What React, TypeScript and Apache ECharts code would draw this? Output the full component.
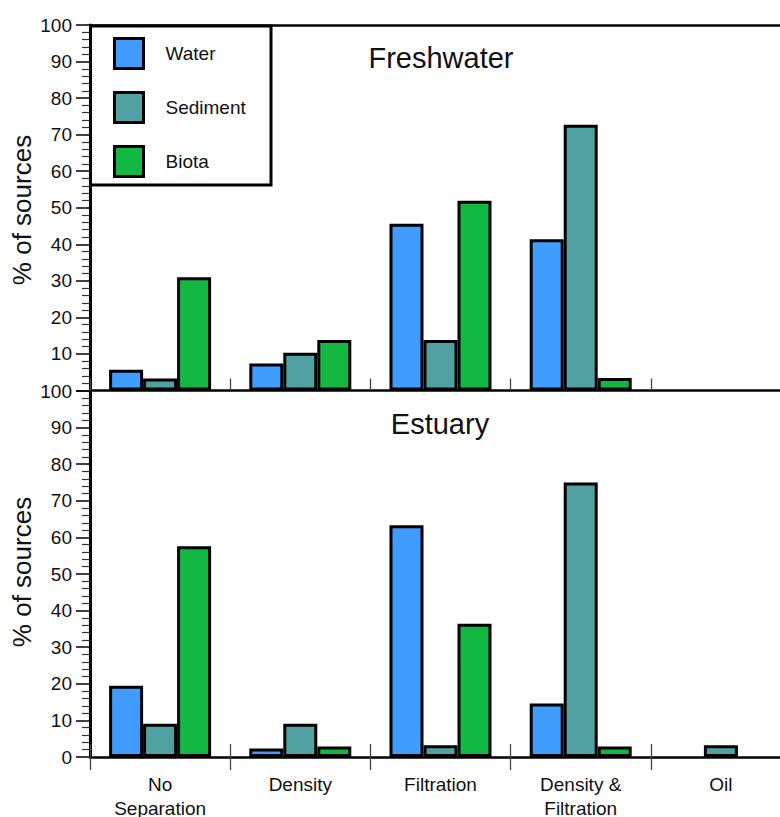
import React, { useEffect, useRef } from 'react';
import * as echarts from 'echarts';

const FONT = '"Liberation Sans", Arial, Helvetica, sans-serif';

const categories = ['No\nSeparation', 'Density', 'Filtration', 'Density &\nFiltration', 'Oil'];
const seriesNames = ['Water', 'Sediment', 'Biota'];
const colors = ['#409cff', '#52a1a2', '#13b842'];
const panelTitles = ['Freshwater', 'Estuary'];
const yAxisTitle = '% of sources';

// Percentage of sources per separation method, freshwater panel
const freshWater = [5.7, 7.4, 45.6, 41.4, 0];
const freshSediment = [3.3, 10.3, 13.8, 72.7, 0];
const freshBiota = [31.0, 13.8, 51.9, 3.4, 0];

// Percentage of sources per separation method, estuary panel
const estuaryWater = [19.5, 2.3, 63.3, 14.6, 0];
const estuarySediment = [9.1, 9.1, 3.2, 75.0, 3.2];
const estuaryBiota = [57.6, 2.9, 36.4, 2.9, 0];

// zero shares are simply not drawn
const toBars = (arr: number[]) => arr.map((v) => (v > 0 ? v : null));

export default function App() {
  const ref = useRef<HTMLDivElement>(null);

  useEffect(() => {
    if (!ref.current) return;
    const chart = echarts.init(ref.current, undefined, { renderer: 'svg' });

    const yAxisBase = {
      type: 'value',
      min: 0,
      max: 100,
      interval: 10,
      axisLine: { show: true, lineStyle: { color: '#000', width: 3 } },
      axisTick: { show: true, length: 14, lineStyle: { color: '#000', width: 1.5 } },
      minorTick: { show: true, splitNumber: 5, length: 8, lineStyle: { color: '#333', width: 1.2 } },
      splitLine: { show: false },
      axisLabel: { color: '#111', fontSize: 19, fontFamily: FONT, margin: 18 },
    };

    const catBase = {
      type: 'category',
      data: categories,
      axisLabel: { show: false },
      axisTick: { show: false },
      axisLine: { show: false, onZero: false },
    };
    const lineStyle = { color: '#000', width: 2.5 };
    const tickStyle = { color: '#444', width: 1.3 };

    const barBase = {
      type: 'bar',
      barWidth: 34,
      barGap: '0%',
    };
    const datasets = [
      [freshWater, freshSediment, freshBiota],
      [estuaryWater, estuarySediment, estuaryBiota],
    ];
    const series: any[] = [];
    datasets.forEach((group, panel) => {
      group.forEach((values, i) => {
        series.push({
          ...barBase,
          name: seriesNames[i],
          xAxisIndex: panel === 0 ? 0 : 2,
          yAxisIndex: panel,
          data: toBars(values),
          itemStyle: { color: colors[i], borderColor: '#000', borderWidth: 3 },
        });
      });
    });

    const textStyle = { fill: '#111', fontFamily: FONT, align: 'center', verticalAlign: 'middle' };

    chart.setOption({
      animation: false,
      backgroundColor: '#fff',
      grid: [
        { left: 90, top: 25, width: 701, height: 365.5, outerBoundsMode: 'none', containLabel: false },
        { left: 90, top: 391, width: 701, height: 366, outerBoundsMode: 'none', containLabel: false },
      ],
      xAxis: [
        {
          ...catBase,
          gridIndex: 0,
          position: 'bottom',
          axisLine: { show: true, onZero: false, lineStyle },
          axisTick: { show: true, inside: true, length: 12, interval: 0, lineStyle: tickStyle },
        },
        {
          ...catBase,
          gridIndex: 0,
          position: 'top',
          axisLine: { show: true, onZero: false, lineStyle },
        },
        {
          ...catBase,
          gridIndex: 1,
          position: 'bottom',
          axisLine: { show: true, onZero: false, lineStyle },
          axisTick: { show: true, inside: true, length: 13, interval: 0, lineStyle: tickStyle },
          axisLabel: {
            show: true,
            interval: 0,
            fontSize: 19,
            lineHeight: 24,
            margin: 15,
            color: '#111',
            fontFamily: FONT,
          },
        },
        {
          ...catBase,
          gridIndex: 1,
          position: 'bottom',
          axisTick: { show: true, inside: false, length: 13, interval: 0, lineStyle: tickStyle },
        },
      ],
      yAxis: [
        // the lower panel's "100" sits on this panel's zero line
        { ...yAxisBase, gridIndex: 0, axisLabel: { ...yAxisBase.axisLabel, showMinLabel: false } },
        { ...yAxisBase, gridIndex: 1 },
      ],
      legend: {
        data: seriesNames,
        orient: 'vertical',
        left: 113,
        top: 37,
        padding: 0,
        itemWidth: 29,
        itemHeight: 30,
        itemGap: 21,
        icon: 'rect',
        selectedMode: false,
        itemStyle: { borderColor: '#000', borderWidth: 3 },
        textStyle: { fontSize: 19, fontFamily: FONT, color: '#111', padding: [0, 0, 0, 17] },
      },
      graphic: [
        {
          type: 'rect',
          z: 3,
          shape: { x: 90.5, y: 26, width: 180.5, height: 159 },
          style: { fill: '#fff', stroke: '#000', lineWidth: 3 },
        },
        {
          type: 'text',
          z: 5,
          x: 441,
          y: 57.5,
          style: { ...textStyle, text: panelTitles[0], fontSize: 29 },
        },
        {
          type: 'text',
          z: 5,
          x: 440,
          y: 423.5,
          style: { ...textStyle, text: panelTitles[1], fontSize: 29 },
        },
        {
          type: 'text',
          z: 5,
          x: 22,
          y: 210,
          rotation: Math.PI / 2,
          style: { ...textStyle, text: yAxisTitle, fontSize: 26 },
        },
        {
          type: 'text',
          z: 5,
          x: 22,
          y: 572,
          rotation: Math.PI / 2,
          style: { ...textStyle, text: yAxisTitle, fontSize: 26 },
        },
      ],
      series,
    });

    return () => chart.dispose();
  }, []);

  return (
    <div
      style={{
        position: 'fixed',
        left: 0,
        top: 0,
        width: 780,
        height: 817,
        overflow: 'hidden',
        background: '#fff',
      }}
    >
      {/* the plot runs a little past the right edge of the frame */}
      <div ref={ref} style={{ width: 800, height: 817 }} />
    </div>
  );
}
